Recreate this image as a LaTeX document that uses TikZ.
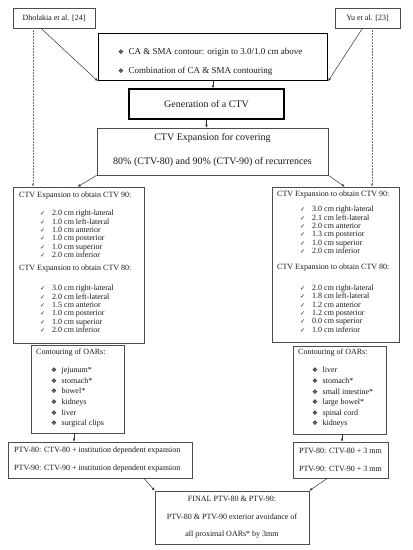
\documentclass[tikz,border=0pt]{standalone}
\usepackage{fontspec}
\setmainfont{Liberation Serif}
\newfontfamily\symf{DejaVu Sans}
\usetikzlibrary{calc,arrows.meta}
\newcommand{\ck}{\makebox[12pt][l]{\symf\fontsize{6}{6}\selectfont ✓}}
\newcommand{\dm}{\makebox[10.5pt][l]{\symf\fontsize{6.5}{6.5}\selectfont ❖}}
\begin{document}
\begin{tikzpicture}[x=1pt,y=-1pt,
  box/.style={draw=black!70, line width=0.6pt, inner sep=0pt, rectangle},
  thickbox/.style={draw=black, line width=1.3pt, inner sep=0pt, rectangle},
  txt/.style={inner sep=0pt, text=black!90},
  arr/.style={draw=black!80, line width=0.5pt, -{Latex[length=3pt,width=2.6pt]}},
  dotarr/.style={draw=black!55, line width=0.5pt, densely dotted, -{Latex[length=3pt,width=2.6pt]}},
  f10/.style={font=\fontsize{10}{12}\selectfont},
  f9/.style={font=\fontsize{9}{11}\selectfont},
  f8/.style={font=\fontsize{8}{10}\selectfont},
  lst/.style={align=left, font=\fontsize{8}{8.4}\selectfont},
  oar/.style={align=left, font=\fontsize{8}{10.6}\selectfont}
]
\useasboundingbox[fill=white] (0,0) rectangle (413,550);

% boxes
\node[box, minimum width=82pt, minimum height=20pt] (dh) at (54,18) {};
\node[box, minimum width=65pt, minimum height=20pt] (yu) at (367.5,18) {};
\node[thickbox, minimum width=229pt, minimum height=47pt] (ca) at (213,57) {};
\node[thickbox, minimum width=155pt, minimum height=30pt] (gen) at (206.5,104) {};
\node[box, minimum width=231pt, minimum height=47pt] (exp) at (212.5,151.5) {};
\node[box, minimum width=131pt, minimum height=156pt] (lctv) at (78.5,265) {};
\node[box, minimum width=127pt, minimum height=155pt] (rctv) at (335.5,264.5) {};
\node[box, minimum width=93pt, minimum height=88pt] (loar) at (77.5,389) {};
\node[box, minimum width=93pt, minimum height=88pt] (roar) at (339.5,390) {};
\node[box, minimum width=184pt, minimum height=36pt] (lptv) at (100,460) {};
\node[box, minimum width=95pt, minimum height=36pt] (rptv) at (340.5,460) {};
\node[box, minimum width=154pt, minimum height=53pt] (fin) at (232,517.5) {};

% texts
\node[txt, f8] (dht) at (dh.center) {Dholakia et al. [24]};
\node[txt, f8] (yut) at (yu.center) {Yu et al. [23]};
\node[txt, f9, anchor=west] (ca1) at (118,52) {\dm CA \& SMA contour: origin to 3.0/1.0 cm above};
\node[txt, f9, anchor=west] (ca2) at (118,71) {\dm Combination of CA \& SMA contouring};
\node[txt, f10] (gent) at (gen.center) {Generation of a CTV};
\node[txt, f10] (exp1) at (212.5,138) {CTV Expansion for covering};
\node[txt, f10] (exp2) at (212.5,162) {80\% (CTV-80) and 90\% (CTV-90) of recurrences};

\node[txt, f8, anchor=west] (lh1) at (19,196) {CTV Expansion to obtain CTV 90:};
\node[txt, lst, anchor=west] (ll1) at (40,234) {\ck 2.0 cm right-lateral\\ \ck 1.0 cm left-lateral\\ \ck 1.0 cm anterior\\ \ck 1.0 cm posterior\\ \ck 1.0 cm superior\\ \ck 2.0 cm inferior};
\node[txt, f8, anchor=west] (lh2) at (19,269) {CTV Expansion to obtain CTV 80:};
\node[txt, lst, anchor=west] (ll2) at (40,309) {\ck 3.0 cm right-lateral\\ \ck 2.0 cm left-lateral\\ \ck 1.5 cm anterior\\ \ck 1.0 cm posterior\\ \ck 1.0 cm superior\\ \ck 2.0 cm inferior};

\node[txt, f8, anchor=west] (rh1) at (277,195) {CTV Expansion to obtain CTV 90:};
\node[txt, lst, anchor=west] (rl1) at (300,230) {\ck 3.0 cm right-lateral\\ \ck 2.1 cm left-lateral\\ \ck 2.0 cm anterior\\ \ck 1.3 cm posterior\\ \ck 1.0 cm superior\\ \ck 2.0 cm inferior};
\node[txt, f8, anchor=west] (rh2) at (277,268) {CTV Expansion to obtain CTV 80:};
\node[txt, lst, anchor=west] (rl2) at (300,308.5) {\ck 2.0 cm right-lateral\\ \ck 1.8 cm left-lateral\\ \ck 1.2 cm anterior\\ \ck 1.2 cm posterior\\ \ck 0.0 cm superior\\ \ck 1.0 cm inferior};

\node[txt, f8, anchor=west] (loh) at (36,353) {Contouring of OARs:};
\node[txt, oar, anchor=west] (lol) at (51,397.5) {\dm jejunum*\\ \dm stomach*\\ \dm bowel*\\ \dm kidneys\\ \dm liver\\ \dm surgical clips};
\node[txt, f8, anchor=west] (roh) at (298,353) {Contouring of OARs:};
\node[txt, oar, anchor=west] (rol) at (312,397.5) {\dm liver\\ \dm stomach*\\ \dm small intestine*\\ \dm large bowel*\\ \dm spinal cord\\ \dm kidneys};

\node[txt, f8, anchor=west] (lp1) at (14,451) {PTV-80: CTV-80 + institution dependent expansion};
\node[txt, f8, anchor=west] (lp2) at (14,469) {PTV-90: CTV-90 + institution dependent expansion};
\node[txt, f8] (rp1) at (340.5,451) {PTV-80: CTV-80 + 3 mm};
\node[txt, f8] (rp2) at (340.5,469) {PTV-90: CTV-90 + 3 mm};

\node[txt, f8] (fi1) at (232,499) {FINAL PTV-80 \& PTV-90:};
\node[txt, f8] (fi2) at (232,517) {PTV-80 \& PTV-90 exterior avoidance of};
\node[txt, f8] (fi3) at (232,535) {all proximal OARs* by 3mm};

% connectors
\draw[arr] ([xshift=-13pt]dh.south) -- (ca.south west);
\draw[arr] ([xshift=-5pt]yu.south) -- (ca.south east);
\draw[dotarr] ([xshift=-21pt]dh.south) -- ([xshift=-21pt]dh.south |- lctv.north);
\draw[dotarr] ([xshift=4.5pt]yu.south) -- ([xshift=4.5pt]yu.south |- rctv.north);
\draw[arr] (ca.south) -- (ca.south |- gen.north);
\draw[arr] (gen.south) -- (gen.south |- exp.north);
\draw[arr] (exp.south west) -- ([xshift=65pt]lctv.north west);
\draw[arr] (exp.south east) -- ([xshift=73pt]rctv.north west);
\draw[arr] ([xshift=-3.5pt]loar.south) -- ([xshift=-3.5pt]loar.south |- lptv.north);
\draw[arr] ([xshift=2.5pt]roar.south) -- ([xshift=2.5pt]roar.south |- rptv.north);
\draw[arr] ([xshift=44pt]lptv.south) -- (fin.north west);
\draw[arr] ([xshift=-13pt]rptv.south) -- (fin.north east);
\end{tikzpicture}
\end{document}
